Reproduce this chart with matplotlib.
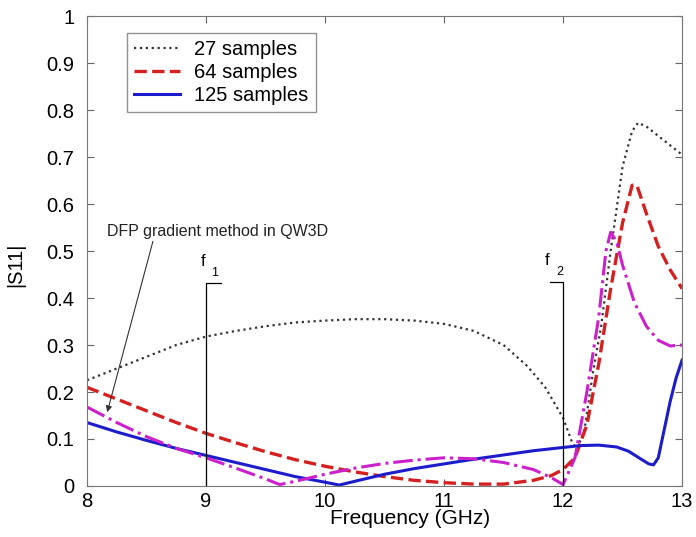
import matplotlib
matplotlib.use("Agg")
import matplotlib.pyplot as plt

plt.rcParams["font.family"] = ["Liberation Sans", "DejaVu Sans"]

# ── Data ──────────────────────────────────────────────────────────────────────
f27 = [8.0, 8.25, 8.5, 8.75, 9.0, 9.25, 9.5, 9.75, 10.0, 10.25, 10.5, 10.75,
       11.0, 11.25, 11.5, 11.7, 11.85, 12.0, 12.08, 12.12, 12.18, 12.25, 12.32,
       12.4, 12.5, 12.58, 12.63, 12.7, 12.8, 12.9, 13.0]
s27 = [0.225, 0.25, 0.275, 0.30, 0.318, 0.33, 0.34, 0.348, 0.352, 0.355, 0.355,
       0.352, 0.345, 0.33, 0.30, 0.255, 0.21, 0.145, 0.09, 0.08, 0.12, 0.24,
       0.34, 0.5, 0.68, 0.755, 0.773, 0.765, 0.745, 0.725, 0.705]

f64 = [8.0, 8.25, 8.5, 8.75, 9.0, 9.25, 9.5, 9.75, 10.0, 10.25, 10.5, 10.75,
       11.0, 11.25, 11.5, 11.75, 11.9, 12.0, 12.1, 12.2, 12.3, 12.4, 12.5,
       12.58, 12.62, 12.7, 12.8, 12.9, 13.0]
s64 = [0.21, 0.185, 0.16, 0.135, 0.112, 0.092, 0.073, 0.056, 0.042, 0.03, 0.02,
       0.012, 0.007, 0.004, 0.004, 0.012, 0.022, 0.035, 0.06, 0.13, 0.26, 0.42,
       0.56, 0.64, 0.64, 0.58, 0.51, 0.46, 0.42]

f_dfp = [8.0, 8.25, 8.5, 8.75, 9.0, 9.25, 9.5, 9.62, 9.75, 10.0, 10.25, 10.5,
         10.75, 11.0, 11.25, 11.5, 11.75, 11.9, 12.0, 12.1, 12.2, 12.3, 12.36,
         12.4, 12.45, 12.5, 12.6, 12.7, 12.8, 12.9, 13.0]
s_dfp = [0.168, 0.135, 0.105, 0.08, 0.06, 0.038, 0.015, 0.003, 0.01, 0.025,
         0.038, 0.048, 0.055, 0.06, 0.058, 0.05, 0.035, 0.018, 0.003, 0.06, 0.2,
         0.36, 0.5, 0.54, 0.52, 0.47, 0.39, 0.34, 0.31, 0.298, 0.3]

f125 = [8.0, 8.25, 8.5, 8.75, 9.0, 9.25, 9.5, 9.75, 10.0, 10.12, 10.25, 10.5,
        10.75, 11.0, 11.25, 11.5, 11.75, 12.0, 12.15, 12.3, 12.45, 12.55, 12.65,
        12.72, 12.76, 12.8, 12.85, 12.9, 12.95, 13.0]
s125 = [0.135, 0.115, 0.097, 0.08, 0.065, 0.05, 0.035, 0.02, 0.008, 0.002, 0.01,
        0.025, 0.037, 0.047, 0.057, 0.066, 0.075, 0.082, 0.086, 0.087, 0.083,
        0.074, 0.058, 0.047, 0.045, 0.06, 0.12, 0.18, 0.23, 0.268]

# ── Figure ────────────────────────────────────────────────────────────────────
fig = plt.figure(figsize=(6.96, 5.37), dpi=100)
ax = fig.add_axes([0.125, 0.095, 0.855, 0.875])

ax.plot(f27, s27, color="#333333", linestyle=":", linewidth=1.6, label="27 samples")
ax.plot(f64, s64, color="#d42020", linestyle="--", linewidth=2.4, label="64 samples")
ax.plot(f125, s125, color="#1c1ccc", linestyle="-", linewidth=2.2, label="125 samples")
ax.plot(f_dfp, s_dfp, color="#cc20cc", linestyle="-.", linewidth=2.2)

# f1 / f2 band markers
ax.plot([9, 9, 9.13], [0, 0.432, 0.432], color="black", linewidth=0.9)
ax.plot([12, 12, 11.89], [0, 0.434, 0.434], color="black", linewidth=0.9)
ax.text(8.955, 0.468, "f", fontsize=12)
ax.text(9.045, 0.446, "1", fontsize=9)
ax.text(11.845, 0.470, "f", fontsize=12)
ax.text(11.94, 0.448, "2", fontsize=9)

ax.annotate("DFP gradient method in QW3D", xy=(8.17, 0.157), xytext=(8.17, 0.533),
            fontsize=11.5, color="#222222",
            arrowprops=dict(arrowstyle="-|>", color="#333333", lw=0.8,
                            shrinkA=0, shrinkB=0, mutation_scale=9,
                            relpos=(0.21, 0.0)))

ax.set_xlim(8, 13)
ax.set_ylim(0, 1)
ax.set_xticks([8, 9, 10, 11, 12, 13])
ax.set_yticks([0, 0.1, 0.2, 0.3, 0.4, 0.5, 0.6, 0.7, 0.8, 0.9, 1])
ax.set_yticklabels(["0", "0.1", "0.2", "0.3", "0.4", "0.5", "0.6", "0.7",
                    "0.8", "0.9", "1"])
ax.tick_params(direction="in", top=True, right=True, labelsize=14.5,
               length=5, color="#666666")
ax.tick_params(axis="y", pad=9)
ax.tick_params(axis="x", pad=4)
for spine in ax.spines.values():
    spine.set_edgecolor("#777777")

ax.set_xlabel("Frequency (GHz)", fontsize=15)
ax.xaxis.set_label_coords(0.543, -0.049)
ax.set_ylabel("|S11|", fontsize=14.5)
ax.yaxis.set_label_coords(-0.104, 0.47)

ax.legend(loc="upper left", bbox_to_anchor=(0.067, 0.964), fontsize=14.5,
          frameon=True, fancybox=False, edgecolor="#777777", borderaxespad=0,
          handlelength=2.3, borderpad=0.35, labelspacing=0.2, handletextpad=0.7)

fig.savefig("out.png", dpi=100, facecolor="white")
